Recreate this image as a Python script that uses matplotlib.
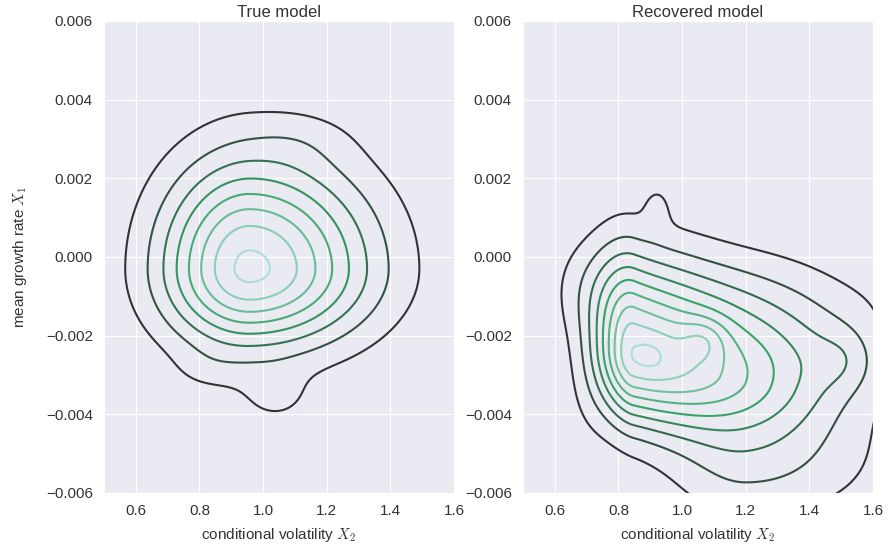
import numpy as np
import matplotlib
matplotlib.use("Agg")
import matplotlib.pyplot as plt
import seaborn as sns

# density bumps (one entry per bump):
# centre x / y, spread left / right, spread down / up, tilt of the centre line, height
true_mx = [0.957, 1.04, 0.82, 1.12]
true_my = [-0.0003, -0.0036, -0.0029, 0.0030]
true_sxl = [0.19, 0.08, 0.08, 0.12]
true_sxr = [0.26, 0.08, 0.08, 0.12]
true_syd = [0.00137, 0.0005, 0.0004, 0.0005]
true_syu = [0.0019, 0.0005, 0.0004, 0.0005]
true_tilt = [0.0, 0.0, 0.0, 0.0]
true_h = [8.0, 0.9, 0.4, 0.4]

rec_mx = [0.85, 0.90, 1.07, 0.70, 0.922, 0.70, 1.20, 1.35, 1.52, 1.60, 1.30]
rec_my = [-0.0025, -0.0025, -0.0021, -0.0008, 0.0013, -0.0035, -0.0055, -0.0026, -0.0026, -0.0012, -0.0008]
rec_sxl = [0.085, 0.045, 0.05, 0.09, 0.03, 0.06, 0.17, 0.20, 0.07, 0.12, 0.20]
rec_sxr = [0.32, 0.045, 0.05, 0.09, 0.03, 0.06, 0.28, 0.18, 0.07, 0.12, 0.20]
rec_syd = [0.0012, 0.00035, 0.0004, 0.0010, 0.0004, 0.0012, 0.0010, 0.0011, 0.0006, 0.0006, 0.0009]
rec_syu = [0.0017, 0.00035, 0.0004, 0.0010, 0.0004, 0.0012, 0.0010, 0.0011, 0.0006, 0.0006, 0.0009]
rec_tilt = [-0.0018, 0, 0, 0, 0, 0, 0, 0, 0, 0, 0]
rec_h = [8.8, 0.6, 1.3, 1.2, 0.8, 0.6, 1.6, 1.8, 1.0, 0.25, 0.7]

true_nlevels = 8
rec_nlevels = 9

xticks = [0.6, 0.8, 1.0, 1.2, 1.4, 1.6]
yticks = [-0.006, -0.004, -0.002, 0.000, 0.002, 0.004, 0.006]


def density(X, Y, mx, my, sxl, sxr, syd, syu, tilt, h):
    Z = np.zeros_like(X)
    for i in range(len(mx)):
        dx = X - mx[i]
        sx = np.where(dx < 0, sxl[i], sxr[i])
        dy = Y - (my[i] + tilt[i] * dx)
        sy = np.where(dy < 0, syd[i], syu[i])
        Z += h[i] * np.exp(-0.5 * ((dx / sx) ** 2 + (dy / sy) ** 2))
    return Z


sns.set_style("darkgrid")
plt.rcParams["font.family"] = ["Liberation Sans", "DejaVu Sans"]
plt.rcParams["mathtext.fontset"] = "cm"

# same colour ramp as seaborn's old "BuGn_d" kde map
pal = ["#333333"] + sns.color_palette("BuGn_r", 2)
cmap = sns.blend_palette(pal, as_cmap=True)

fig = plt.figure(figsize=(8.88, 5.51), dpi=100)
ax1 = fig.add_axes([104 / 888, 58 / 551, 350 / 888, 472 / 551])
ax2 = fig.add_axes([523 / 888, 58 / 551, 350 / 888, 472 / 551])

gx = np.linspace(0.4, 1.8, 500)
gy = np.linspace(-0.008, 0.007, 500)
X, Y = np.meshgrid(gx, gy)

panels = [
    (ax1, "True model",
     (true_mx, true_my, true_sxl, true_sxr, true_syd, true_syu, true_tilt, true_h), true_nlevels),
    (ax2, "Recovered model",
     (rec_mx, rec_my, rec_sxl, rec_sxr, rec_syd, rec_syu, rec_tilt, rec_h), rec_nlevels),
]
for ax, title, params, n in panels:
    Z = density(X, Y, *params)
    inside = (X >= 0.5) & (X <= 1.6) & (Y >= -0.006) & (Y <= 0.006)
    step = 0.97 * Z[inside].max() / n
    levels = step * np.arange(1, n + 1)
    colors = [cmap(t) for t in np.linspace(0, 1, n)]
    ax.contour(X, Y, Z, levels=levels, colors=colors, linewidths=1.5)
    ax.set_xlim(0.5, 1.6)
    ax.set_ylim(-0.006, 0.006)
    ax.set_xticks(xticks)
    ax.set_yticks(yticks)
    ax.set_yticklabels([f"{t:.3f}".replace("-", "\u2212") for t in yticks])
    ax.set_title(title, fontsize=12, color="#333333", pad=3)
    ax.set_xlabel("conditional volatility $X_2$", fontsize=11, color="#333333", labelpad=6)
    ax.tick_params(labelsize=11, colors="#333333", length=0, pad=8)

ax1.set_ylabel("mean growth rate $X_1$", fontsize=11, color="#333333", labelpad=12)

fig.savefig("out.png", dpi=100)
